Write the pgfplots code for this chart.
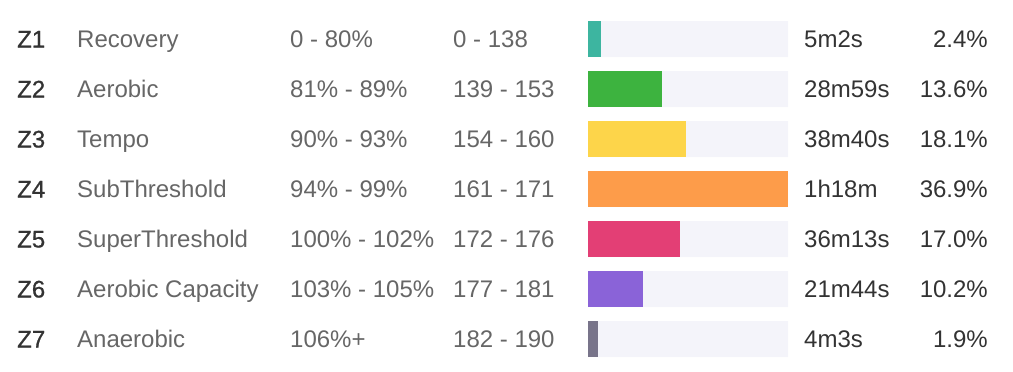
\documentclass[border=0pt]{standalone}
\usepackage{pgfplots}
\pgfplotsset{compat=1.18}
\usepackage{fontspec}
\setmainfont{Liberation Sans}
\newfontfamily\zfont[FakeBold=0.8]{Liberation Sans}
\definecolor{cteal}{HTML}{3DB5A0}
\definecolor{cgreen}{HTML}{3DB33F}
\definecolor{cyellow}{HTML}{FDD54A}
\definecolor{corange}{HTML}{FD9C4A}
\definecolor{cpink}{HTML}{E33F75}
\definecolor{cpurple}{HTML}{8A63D8}
\definecolor{cgray}{HTML}{78748A}
\definecolor{ctrack}{HTML}{F4F4FA}
\definecolor{tdark}{HTML}{333333}
\definecolor{tgrey}{HTML}{666666}
\begin{document}
\begin{tikzpicture}
\useasboundingbox (0,0) rectangle (1013pt,-372pt);
\begin{axis}[
  at={(588pt,-364pt)}, anchor=south west,
  scale only axis, width=200pt, height=350pt,
  xmin=0, xmax=36.9, ymin=0.5, ymax=7.5, y dir=reverse,
  hide axis, clip=false,
  every axis plot/.append style={xbar, bar width=36pt, bar shift=0pt, draw=none},
]
\addplot[fill=ctrack] coordinates {(36.9,1) (36.9,2) (36.9,3) (36.9,4) (36.9,5) (36.9,6) (36.9,7)};
\addplot[fill=cteal] coordinates {(2.4,1)};
\addplot[fill=cgreen] coordinates {(13.6,2)};
\addplot[fill=cyellow] coordinates {(18.1,3)};
\addplot[fill=corange] coordinates {(36.9,4)};
\addplot[fill=cpink] coordinates {(17.0,5)};
\addplot[fill=cpurple] coordinates {(10.2,6)};
\addplot[fill=cgray] coordinates {(1.9,7)};
\end{axis}
\foreach \z/\n/\p/\h/\t/\q [count=\i] in {
  Z1/Recovery/0 - 80\%/0 - 138/5m2s/2.4\%,
  Z2/Aerobic/81\% - 89\%/139 - 153/28m59s/13.6\%,
  Z3/Tempo/90\% - 93\%/154 - 160/38m40s/18.1\%,
  Z4/SubThreshold/94\% - 99\%/161 - 171/1h18m/36.9\%,
  Z5/SuperThreshold/100\% - 102\%/172 - 176/36m13s/17.0\%,
  Z6/Aerobic Capacity/103\% - 105\%/177 - 181/21m44s/10.2\%,
  Z7/Anaerobic/106\%+/182 - 190/4m3s/1.9\%}{
  \pgfmathsetmacro{\yy}{-47.5-50*(\i-1)}
  \begin{scope}[every node/.style={inner sep=0pt, font=\fontsize{24}{28}\selectfont}]
  \node[anchor=base west, text=tdark] at (17pt,\yy pt) {\zfont\z};
  \node[anchor=base west, text=tgrey] at (77pt,\yy pt) {\n};
  \node[anchor=base west, text=tgrey] at (290pt,\yy pt) {\p};
  \node[anchor=base west, text=tgrey] at (453pt,\yy pt) {\h};
  \node[anchor=base west, text=tdark] at (804pt,\yy pt) {\t};
  \node[anchor=base east, text=tdark] at (988pt,\yy pt) {\q};
  \end{scope}
}
\end{tikzpicture}
\end{document}
